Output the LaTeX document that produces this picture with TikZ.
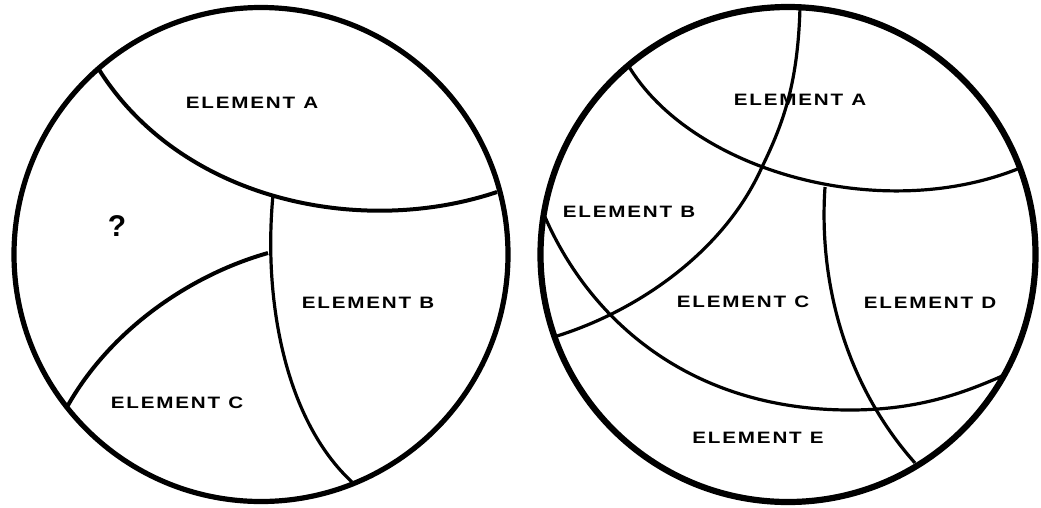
\documentclass[tikz,border=0pt]{standalone}
\usepackage{fontspec}
\newfontfamily\labelfont[FakeStretch=1.25,LetterSpace=11]{Liberation Sans}
\newfontfamily\queryfont{Liberation Sans}

\begin{document}
\begin{tikzpicture}[
  x=1pt, y=-1pt,
  font=\labelfont\bfseries\fontsize{16.5}{16.5}\selectfont,
  rim/.style={line width=5.2pt},
  heavyrim/.style={line width=6.2pt},
  seam/.style={line width=4pt},
  thinseam/.style={line width=3.2pt},
  tag/.style={inner sep=0pt, anchor=center}
]
\useasboundingbox (0,0) rectangle (1041,507);

% Left disc: three named pieces and the unknown
\coordinate (lc) at (261,254.5);
\draw[rim] (lc) circle[radius=247pt];

\coordinate (lAw) at (98,68);
\coordinate (lAe) at (497,192);
\coordinate (lBn) at (273,195);
\coordinate (lBs) at (352,482);
\coordinate (lCn) at (268,253);
\coordinate (lCw) at (67,407);

\draw[seam] (lAw) .. controls (180,200) and (360,238) .. (lAe);
\draw[thinseam] (lBn) .. controls (263,300) and (285,420) .. (lBs);
\draw[seam] (lCn) .. controls (190,275) and (110,330) .. (lCw);

\node[tag] (leftA) at (252,103) {ELEMENT\hspace{8pt}A};
\node[tag, font=\queryfont\bfseries\fontsize{30}{30}\selectfont] (query) at (117,226) {?};
\node[tag] (leftB) at (368,303) {ELEMENT\hspace{8pt}B};
\node[tag] (leftC) at (177,403) {ELEMENT\hspace{8pt}C};

% Right disc: five pieces
\coordinate (rc) at (788,254.5);
\draw[heavyrim] (rc) circle[radius=247.5pt];

\coordinate (r1w) at (628,65);
\coordinate (r1e) at (1020,168);
\coordinate (r2n) at (800,7);
\coordinate (r2m) at (762,167);
\coordinate (r2w) at (557,336);
\coordinate (r3w) at (545,217);
\coordinate (r3m) at (850,410);
\coordinate (r3e) at (1007,373);
\coordinate (r4n) at (825,187);
\coordinate (r4s) at (915,463);

\draw[thinseam] (r1w) .. controls (690,170) and (880,225) .. (r1e);
\draw[thinseam] (r2n) .. controls (798,80) and (785,120) .. (r2m)
  .. controls (725,250) and (640,310) .. (r2w);
\draw[thinseam] (r3w) .. controls (590,320) and (690,410) .. (r3m)
  .. controls (920,410) and (965,392) .. (1000,377) -- (r3e);
\draw[thinseam] (r4n) .. controls (818,290) and (850,390) .. (r4s);

\node[tag] (rightA) at (800,100) {ELEMENT\hspace{8pt}A};
\node[tag] (rightB) at (629,212) {ELEMENT\hspace{8pt}B};
\node[tag] (rightC) at (743,302) {ELEMENT\hspace{8pt}C};
\node[tag] (rightD) at (930,303) {ELEMENT\hspace{8pt}D};
\node[tag] (rightE) at (758,438) {ELEMENT\hspace{8pt}E};

\end{tikzpicture}
\end{document}
